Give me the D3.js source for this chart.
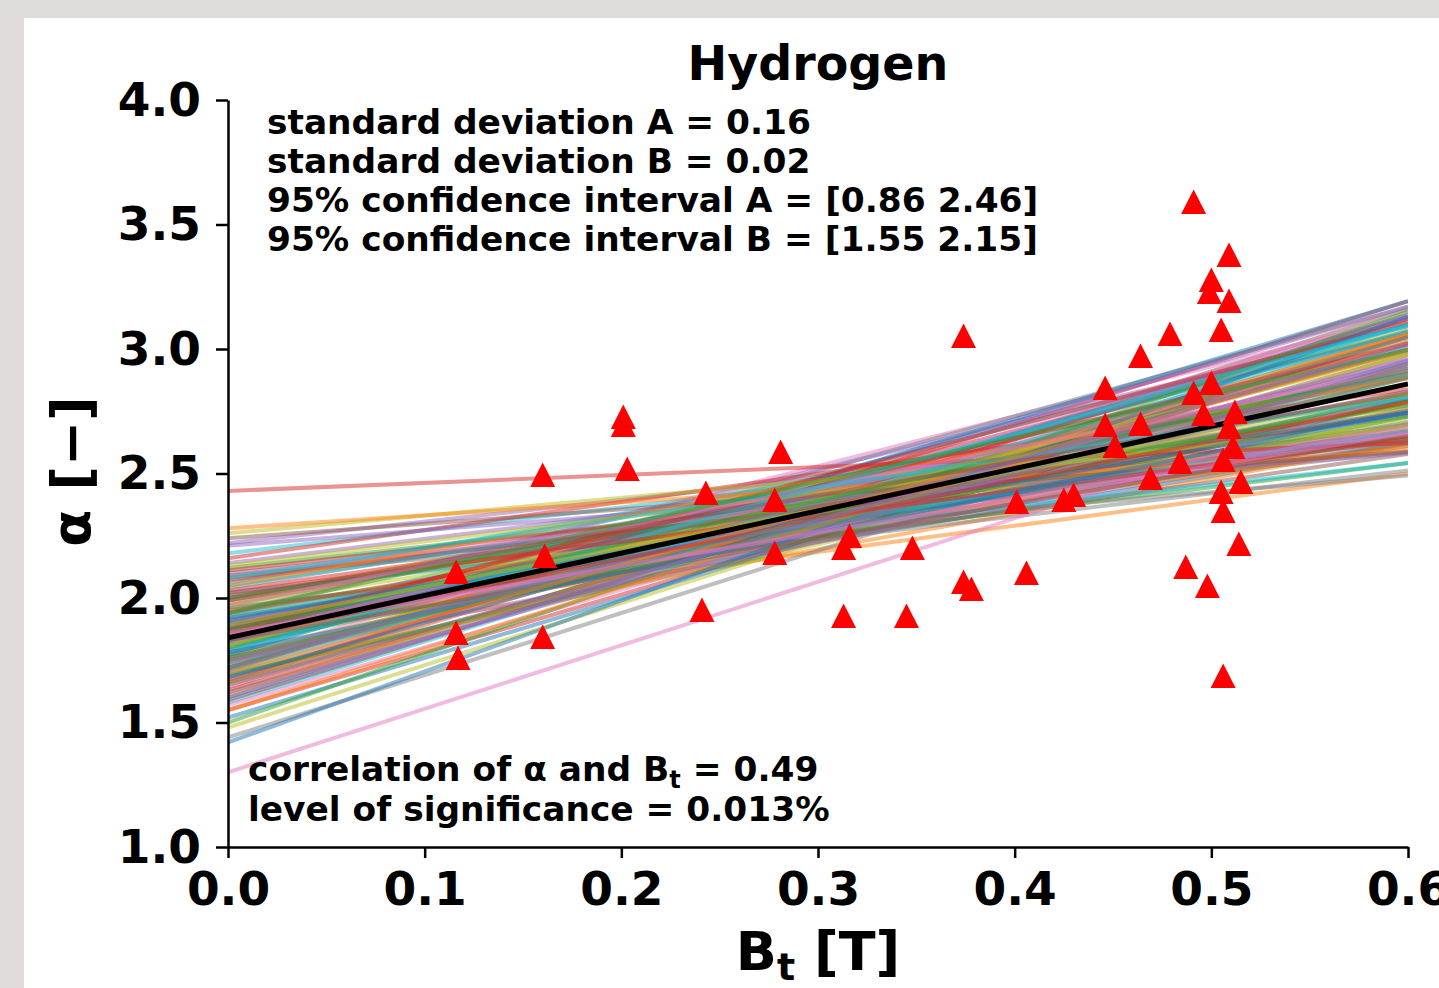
<!DOCTYPE html>
<meta charset="utf-8">
<script src="https://d3js.org/d3.v7.min.js"></script>
<style>
  body { margin: 0; background: #dfdbdb; }
  text { font-family: "DejaVu Sans", sans-serif; font-weight: bold; }
</style>
<div id="my_dataviz"></div>
<script>
    // measured points (B_t [T], alpha [-])
    var bt = [0.116, 0.116, 0.117, 0.160, 0.161, 0.160, 0.201, 0.201, 0.203, 0.243,
        0.241, 0.281, 0.278, 0.278, 0.313, 0.316, 0.313, 0.348, 0.345, 0.374,
        0.374, 0.378, 0.401, 0.406, 0.425, 0.430, 0.446, 0.446, 0.451, 0.464,
        0.464, 0.469, 0.479, 0.484, 0.487, 0.491, 0.491, 0.496, 0.498, 0.500,
        0.500, 0.499, 0.509, 0.509, 0.505, 0.506, 0.506, 0.505, 0.506, 0.512,
        0.509, 0.511, 0.515, 0.514];
    var alpha = [2.104, 1.859, 1.759, 2.494, 2.169, 1.843, 2.727, 2.695, 2.518, 2.422,
        1.952, 2.586, 2.394, 2.181, 2.201, 2.249, 1.928, 2.201, 1.928, 3.052,
        2.064, 2.036, 2.386, 2.100, 2.394, 2.414, 2.843, 2.695, 2.610, 2.972,
        2.699, 2.482, 3.060, 2.546, 2.124, 2.823, 3.590, 2.739, 2.048, 2.863,
        3.277, 3.229, 3.378, 3.193, 3.076, 1.687, 2.554, 2.426, 2.349, 2.747,
        2.687, 2.606, 2.466, 2.217];

    // bootstrap fits: intercept and slope of each resampled line
    var bootIntercept = [1.84, 1.95, 1.72, 2.03, 1.88, 1.66, 1.79, 2.10, 1.91, 1.58,
        1.83, 1.99, 1.75, 1.87, 2.14, 1.69, 1.93, 1.81, 1.62, 2.06,
        1.86, 1.77, 1.97, 1.71, 1.90, 2.01, 1.64, 1.85, 1.78, 2.18,
        1.89, 1.74, 1.96, 1.55, 1.82, 2.08, 1.68, 1.92, 1.80, 1.99,
        1.73, 1.87, 2.12, 1.63, 1.94, 1.76, 1.84, 2.04, 1.70, 1.88,
        1.52, 1.98, 1.81, 1.67, 2.22, 1.90, 1.75, 1.86, 2.00, 1.60,
        1.83, 1.95, 1.72, 2.07, 1.79, 1.65, 1.91, 1.85, 1.48, 2.02,
        1.77, 1.93, 1.69, 2.16, 1.82, 1.87, 1.57, 1.96, 1.74, 2.05,
        1.89, 1.61, 1.80, 2.11, 1.71, 1.94, 1.84, 1.44, 2.26, 1.78,
        1.92, 1.66, 2.00, 1.86, 1.75, 1.59, 2.09, 1.83, 1.97, 1.70,
        1.42, 2.28, 1.50, 2.43, 2.21, 2.24, 1.30, 2.09,
        1.81, 1.93, 1.68, 2.05, 1.76, 1.88, 1.62, 1.99, 1.85, 1.72,
        2.13, 1.79, 1.91, 1.55, 1.87, 2.02, 1.74, 1.83, 1.97, 1.66,
        1.89, 2.08, 1.78, 1.70, 1.94, 1.84, 1.60, 2.00, 1.86, 1.75];
    var bootSlope = [1.77, 1.16, 2.34, 1.11, 1.24, 2.50, 2.00, 0.81, 1.53, 2.45,
        1.32, 1.53, 1.89, 2.00, 0.98, 1.79, 2.00, 1.63, 2.39, 1.39,
        1.56, 1.42, 1.53, 2.47, 1.55, 1.00, 2.50, 2.20, 1.65, 0.92,
        1.52, 2.19, 0.97, 2.32, 1.82, 0.92, 2.39, 1.18, 2.13, 1.32,
        2.16, 1.05, 0.87, 2.32, 1.92, 1.71, 1.97, 1.29, 1.72, 2.03,
        2.39, 1.34, 1.53, 2.42, 0.87, 1.13, 2.31, 1.71, 1.13, 2.50,
        2.06, 1.10, 2.13, 1.00, 2.30, 2.21, 1.31, 1.90, 2.50, 0.87,
        2.37, 1.42, 1.84, 1.13, 1.87, 1.47, 2.32, 0.92, 2.13, 1.16,
        1.36, 2.42, 1.87, 0.90, 2.37, 1.34, 1.93, 2.50, 0.71, 2.19,
        1.24, 2.34, 1.29, 2.08, 1.58, 2.43, 0.95, 1.79, 1.21, 2.29,
        2.85, 0.52, 2.75, 0.32, 0.62, 0.58, 2.55, 0.67,
        1.95, 1.24, 2.21, 1.39, 1.76, 1.90, 2.18, 1.26, 1.39, 2.21,
        0.97, 2.18, 1.39, 2.47, 1.74, 1.03, 2.03, 1.37, 1.58, 2.11,
        1.55, 1.21, 1.61, 2.16, 1.76, 1.58, 2.37, 1.37, 1.34, 1.89];

    // least squares fit
    var fitIntercept = 1.84, fitSlope = 1.70;

    var xTicks = [0.0, 0.1, 0.2, 0.3, 0.4, 0.5, 0.6];
    var yTicks = [1.0, 1.5, 2.0, 2.5, 3.0, 3.5, 4.0];

    var statLines = ["standard deviation A = 0.16", "standard deviation B = 0.02",
        "95% confidence interval A = [0.86 2.46]", "95% confidence interval B = [1.55 2.15]"];

    var colors = ["#1f77b4", "#ff7f0e", "#2ca02c", "#d62728", "#9467bd",
        "#8c564b", "#e377c2", "#7f7f7f", "#bcbd22", "#17becf"];

    var W = 1439, H = 988;
    var margin = { top: 100, right: 31, bottom: 141, left: 228 },
        width = W - margin.left - margin.right,
        height = H - margin.top - margin.bottom;

    var root = d3.select("#my_dataviz").append("svg")
        .attr("width", W).attr("height", H);

    root.append("rect").attr("width", W).attr("height", H).attr("fill", "#dfdbdb");
    root.append("rect").attr("x", 24).attr("y", 18)
        .attr("width", W - 24).attr("height", H - 18).attr("fill", "white");

    var svg = root.append("g")
        .attr("transform", "translate(" + margin.left + "," + margin.top + ")");

    var x = d3.scaleLinear().domain([0, 0.6]).range([0, width]);
    var y = d3.scaleLinear().domain([1, 4]).range([height, 0]);

    // bootstrap lines
    var boot = bootIntercept.map(function (b, i) { return { b: b, a: bootSlope[i], i: i }; });
    var line = d3.line().x(function (d) { return x(d[0]); }).y(function (d) { return y(d[1]); });

    svg.append("defs").append("clipPath").attr("id", "clip")
        .append("rect").attr("width", width).attr("height", height);

    var plot = svg.append("g").attr("clip-path", "url(#clip)");

    plot.selectAll("bootline")
        .data(boot)
        .enter()
        .append("path")
        .attr("d", function (d) { return line([[0, d.b], [0.6, d.b + d.a * 0.6]]); })
        .attr("stroke", function (d) { return colors[d.i % 10]; })
        .attr("stroke-width", 4)
        .attr("stroke-opacity", 0.5)
        .attr("fill", "none");

    // fitted line
    plot.append("path")
        .attr("d", line([[0, fitIntercept], [0.6, fitIntercept + fitSlope * 0.6]]))
        .attr("stroke", "black")
        .attr("stroke-width", 5)
        .attr("fill", "none");

    // points
    var pts = bt.map(function (v, i) { return [v, alpha[i]]; });
    svg.selectAll("mytri")
        .data(pts)
        .enter()
        .append("path")
        .attr("transform", function (d) { return "translate(" + x(d[0]) + "," + y(d[1]) + ")"; })
        .attr("d", "M0,-12.5L12.5,12L-12.5,12Z")
        .attr("fill", "red");

    // axes
    var xAxis = svg.append("g")
        .attr("transform", "translate(0," + height + ")")
        .call(d3.axisBottom(x).tickValues(xTicks).tickFormat(d3.format(".1f"))
            .tickSize(11).tickSizeOuter(0).tickPadding(14));
    var yAxis = svg.append("g")
        .call(d3.axisLeft(y).tickValues(yTicks).tickFormat(d3.format(".1f"))
            .tickSize(12).tickSizeOuter(0).tickPadding(15));

    [xAxis, yAxis].forEach(function (ax) {
        ax.selectAll("path, line").attr("stroke", "black").attr("stroke-width", 2.5);
        ax.selectAll("text").attr("fill", "black")
            .style("font-size", "47px").style("font-family", "DejaVu Sans").style("font-weight", "bold");
    });

    // title
    svg.append("text")
        .attr("x", width / 2).attr("y", -20)
        .attr("text-anchor", "middle")
        .style("font-size", "47.5px")
        .text("Hydrogen");

    // stats block
    svg.selectAll("statline")
        .data(statLines)
        .enter()
        .append("text")
        .attr("x", 39)
        .attr("y", function (d, i) { return 34 + i * 39; })
        .style("font-size", "34.4px")
        .text(function (d) { return d; });

    var corr = svg.append("text").attr("x", 20).attr("y", 681).style("font-size", "34.4px");
    corr.append("tspan").text("correlation of α and B");
    corr.append("tspan").attr("dy", 7).style("font-size", "24px").text("t");
    corr.append("tspan").attr("dy", -7).text(" = 0.49");

    svg.append("text").attr("x", 20).attr("y", 721).style("font-size", "34.4px")
        .text("level of significance = 0.013%");

    // axis labels
    var xl = svg.append("text")
        .attr("x", width / 2).attr("y", height + 123)
        .attr("text-anchor", "middle")
        .style("font-size", "54px");
    xl.append("tspan").text("B");
    xl.append("tspan").attr("dy", 10).style("font-size", "38px").text("t");
    xl.append("tspan").attr("dy", -10).text(" [T]");

    svg.append("text")
        .attr("transform", "translate(" + (90 - margin.left) + "," + (y(2.5) - 2) + ") rotate(-90)")
        .attr("text-anchor", "middle")
        .style("font-size", "54px")
        .text("α [−]");
</script>
